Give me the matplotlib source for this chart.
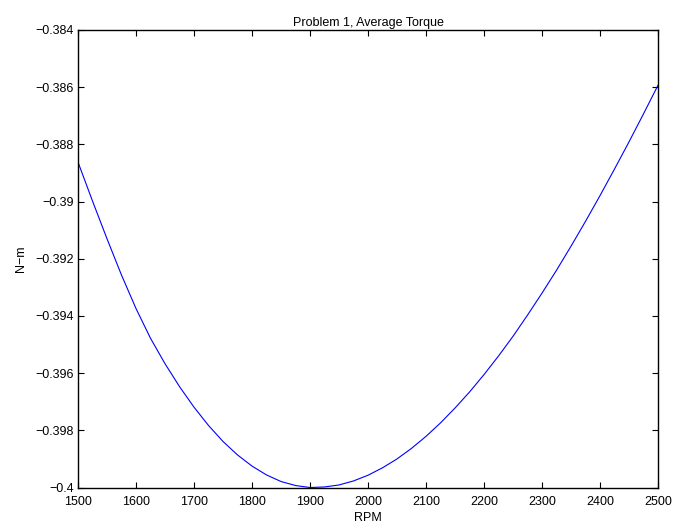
import matplotlib
matplotlib.use("Agg")
import matplotlib.pyplot as plt

# values (every 25 RPM)
rpm = [1500, 1525, 1550, 1575, 1600, 1625, 1650, 1675, 1700, 1725, 1750,
       1775, 1800, 1825, 1850, 1875, 1900, 1925, 1950, 1975, 2000,
       2025, 2050, 2075, 2100, 2125, 2150, 2175, 2200, 2225, 2250,
       2275, 2300, 2325, 2350, 2375, 2400, 2425, 2450, 2475, 2500]
torque = [-0.38862, -0.38998, -0.39130, -0.39257, -0.39374, -0.39478,
          -0.39567, -0.39647, -0.39719, -0.39783, -0.39839, -0.39886,
          -0.39925, -0.39956, -0.39979, -0.39993, -0.40000, -0.39998,
          -0.39991, -0.39977, -0.39957, -0.39931, -0.39900, -0.39863,
          -0.39821, -0.39774, -0.39722, -0.39666, -0.39605, -0.39540,
          -0.39471, -0.39397, -0.39320, -0.39240, -0.39156, -0.39069,
          -0.38979, -0.38886, -0.38791, -0.38693, -0.38593]

x_ticks = [1500, 1600, 1700, 1800, 1900, 2000, 2100, 2200, 2300, 2400, 2500]
y_ticks = [-0.4, -0.398, -0.396, -0.394, -0.392, -0.39, -0.388, -0.386, -0.384]
y_labels = ["\u22120.4", "\u22120.398", "\u22120.396", "\u22120.394", "\u22120.392",
            "\u22120.39", "\u22120.388", "\u22120.386", "\u22120.384"]

plt.rcParams['font.family'] = ['Liberation Sans', 'DejaVu Sans']

fig = plt.figure(figsize=(6.77, 5.29), dpi=100)
ax = fig.add_axes([0.1152, 0.0784, 0.8568, 0.8649])

ax.plot(rpm, torque, color=(0, 0, 1), lw=0.8)

ax.set_xlim(1500, 2500)
ax.set_ylim(-0.4, -0.384)
ax.set_xticks(x_ticks)
ax.set_xticklabels([str(t) for t in x_ticks])
ax.set_yticks(y_ticks)
ax.set_yticklabels(y_labels)

ax.tick_params(direction='in', length=4, width=0.8, top=True, right=True,
               labelsize=9)
ax.tick_params(axis='x', pad=6)
ax.tick_params(axis='y', pad=3)
for s in ax.spines.values():
    s.set_linewidth(1.0)

ax.set_title("Problem 1, Average Torque", fontsize=9, pad=3)
ax.set_xlabel("RPM", fontsize=9, labelpad=3)
ax.set_ylabel("N\u2212m", fontsize=9, labelpad=6)

fig.savefig("out.png", dpi=100)
